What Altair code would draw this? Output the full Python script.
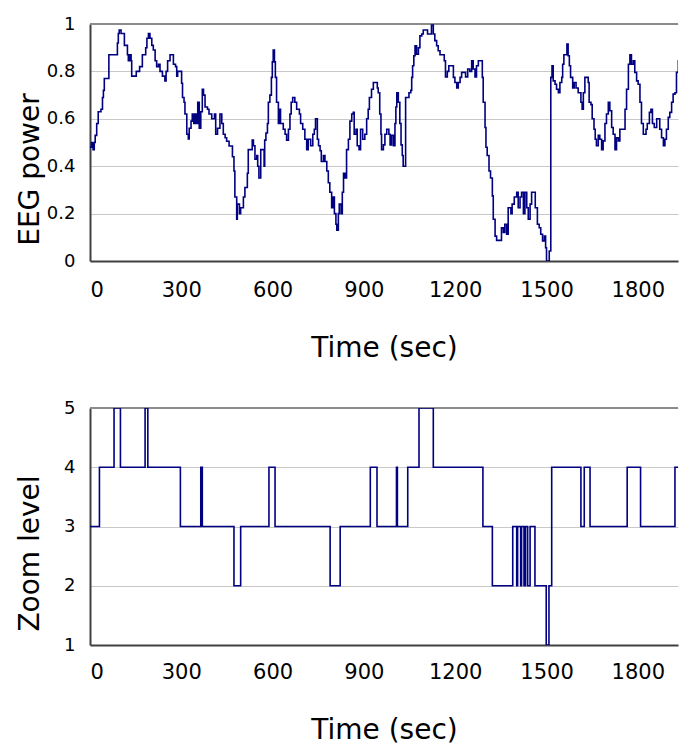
import altair as alt
import pandas as pd

# ---- data ----
eeg_t = [0, 5, 10, 14, 17, 22, 27, 36, 41, 44, 47, 62, 90, 93, 96, 102, 113, 123, 126, 131, 135, 137, 152, 163, 172, 183, 187, 192, 197, 203, 208, 214, 219, 225, 230, 238, 246, 250, 255, 263, 274, 281, 285, 288, 301, 304, 309, 312, 318, 323, 326, 332, 336, 341, 345, 350, 354, 359, 364, 369, 373, 378, 386, 391, 400, 409, 413, 419, 427, 433, 438, 444, 449, 457, 468, 473, 476,
         482, 484, 491, 495, 504, 509, 517, 520, 533, 537, 542, 548, 551, 555, 561, 572, 574, 578, 583, 586, 591, 596, 599, 602, 606, 609, 613, 619, 622, 626, 635, 641, 646, 652, 657, 661, 666, 673, 679, 688, 692, 699, 706, 712, 717, 725, 732, 737, 741, 747, 751, 756, 760, 767, 772, 778, 783, 788, 794, 799, 803, 808, 811, 816, 819, 825, 829, 833, 838, 843, 849, 854, 860, 865, 868, 874, 878, 884, 889, 896, 903, 909, 914, 918, 925, 931, 940, 944,
         947, 952, 956, 958, 964, 969, 975, 982, 986, 991, 997, 1002, 1005, 1008, 1013, 1018, 1022, 1026, 1029, 1037, 1048, 1054, 1057, 1060, 1064, 1068, 1073, 1079, 1084, 1090, 1095, 1109, 1122, 1128, 1133, 1139, 1144, 1150, 1164, 1168, 1174, 1179, 1194, 1199, 1205, 1210, 1216, 1221, 1234, 1241, 1248, 1254, 1259, 1265, 1270, 1276, 1289, 1292, 1298, 1301, 1305, 1311, 1316, 1322, 1325, 1331, 1336, 1352, 1358, 1363, 1369, 1374, 1383, 1387, 1394, 1402, 1407, 1413, 1418, 1424,
         1429, 1435, 1440, 1446, 1451, 1463, 1470, 1476, 1481, 1487, 1493, 1497, 1500, 1509, 1514, 1518, 1522, 1528, 1533, 1539, 1544, 1550, 1553, 1557, 1567, 1571, 1575, 1579, 1586, 1591, 1597, 1604, 1613, 1617, 1621, 1626, 1637, 1640, 1646, 1650, 1656, 1660, 1664, 1670, 1675, 1681, 1686, 1692, 1697, 1703, 1708, 1714, 1719, 1725, 1730, 1736, 1741, 1758, 1763, 1769, 1774, 1779, 1785, 1790, 1796, 1801, 1807, 1812, 1818, 1827, 1831, 1838, 1843, 1848, 1854, 1862, 1872, 1878, 1884, 1889, 1894, 1900, 1905, 1911, 1916, 1922, 1927, 1933, 1938, 1944, 1949, 1955, 1960]
eeg_p = [0.48, 0.50, 0.47, 0.50, 0.53, 0.58, 0.63, 0.64, 0.69, 0.72, 0.77, 0.87, 0.92, 0.96, 0.975, 0.96, 0.91, 0.87, 0.845, 0.87, 0.845, 0.78, 0.80, 0.82, 0.87, 0.90, 0.94, 0.96, 0.94, 0.91, 0.89, 0.845, 0.82, 0.83, 0.80, 0.78, 0.76, 0.80, 0.845, 0.87, 0.83, 0.82, 0.78, 0.80, 0.75, 0.69, 0.67, 0.62, 0.535, 0.515, 0.56, 0.59, 0.62, 0.58, 0.62, 0.58, 0.67, 0.56, 0.63, 0.725, 0.70, 0.65, 0.64, 0.62, 0.60, 0.62, 0.535, 0.56, 0.62, 0.58, 0.535, 0.52, 0.505, 0.485, 0.44, 0.38, 0.27,
         0.176, 0.24, 0.20, 0.225, 0.27, 0.31, 0.37, 0.47, 0.51, 0.486, 0.43, 0.445, 0.40, 0.35, 0.47, 0.40, 0.51, 0.54, 0.58, 0.67, 0.70, 0.775, 0.84, 0.89, 0.84, 0.775, 0.67, 0.58, 0.64, 0.58, 0.556, 0.535, 0.51, 0.556, 0.62, 0.67, 0.69, 0.67, 0.64, 0.62, 0.58, 0.556, 0.514, 0.47, 0.514, 0.486, 0.535, 0.556, 0.60, 0.514, 0.486, 0.465, 0.42, 0.445, 0.42, 0.38, 0.33, 0.29, 0.225, 0.27, 0.20, 0.155, 0.13, 0.20, 0.24, 0.20, 0.29, 0.37, 0.35, 0.47, 0.514, 0.59, 0.62, 0.627, 0.535, 0.556, 0.486, 0.47, 0.556, 0.514, 0.535, 0.60, 0.64, 0.69, 0.725, 0.753, 0.753, 0.73,
         0.71, 0.62, 0.535, 0.47, 0.49, 0.535, 0.556, 0.535, 0.49, 0.53, 0.486, 0.58, 0.65, 0.71, 0.67, 0.58, 0.49, 0.445, 0.40, 0.69, 0.71, 0.72, 0.775, 0.824, 0.866, 0.908, 0.873, 0.90, 0.95, 0.958, 0.975, 0.958, 0.996, 0.958, 0.93, 0.908, 0.887, 0.87, 0.845, 0.777, 0.80, 0.824, 0.775, 0.753, 0.73, 0.753, 0.775, 0.796, 0.777, 0.81, 0.80, 0.845, 0.81, 0.777, 0.824, 0.845, 0.775, 0.67, 0.563, 0.48, 0.445, 0.38, 0.35, 0.275, 0.176, 0.105, 0.087, 0.14, 0.12, 0.155, 0.113, 0.225, 0.20, 0.24, 0.27, 0.29, 0.225, 0.27, 0.29, 0.20,
         0.29, 0.225, 0.176, 0.24, 0.29, 0.225, 0.155, 0.14, 0.113, 0.085, 0.105, 0.056, 0.0, 0.042, 0.775, 0.824, 0.76, 0.746, 0.725, 0.71, 0.753, 0.775, 0.83, 0.87, 0.915, 0.866, 0.824, 0.775, 0.73, 0.753, 0.73, 0.71, 0.67, 0.64, 0.71, 0.775, 0.753, 0.67, 0.66, 0.60, 0.556, 0.514, 0.486, 0.53, 0.514, 0.47, 0.507, 0.58, 0.62, 0.67, 0.634, 0.563, 0.535, 0.47, 0.52, 0.507, 0.556, 0.64, 0.725, 0.83, 0.87, 0.83, 0.845, 0.796, 0.76, 0.746, 0.67, 0.58, 0.535, 0.556, 0.58, 0.627, 0.64, 0.58, 0.563, 0.60, 0.556, 0.52, 0.486, 0.514, 0.556, 0.606, 0.627, 0.67, 0.704, 0.71, 0.796, 0.845, 0.76, 0.73, 0.71, 0.73, 0.704]

zoom_t = [0, 31, 79, 100, 181, 190, 297, 364, 369, 473, 495, 588, 608, 789, 822, 921, 943, 1007, 1010, 1044, 1081, 1128, 1291, 1322, 1389, 1402, 1405, 1415, 1418, 1426, 1431, 1438, 1446, 1462, 1499, 1508, 1517, 1613, 1624, 1643, 1765, 1809, 1922, 1951, 1955, 1960]
zoom_lv = [3, 4, 5, 4, 5, 4, 3, 4, 3, 2, 3, 4, 3, 2, 3, 4, 3, 4, 3, 4, 5, 4, 3, 2, 3, 2, 3, 2, 3, 2, 3, 2, 3, 2, 1, 2, 4, 3, 4, 3, 4, 3, 4, 3, 4, 4]

x_ticks = [0, 300, 600, 900, 1200, 1500, 1800]
eeg_ticks = [0, 0.2, 0.4, 0.6, 0.8, 1]
zoom_ticks = [1, 2, 3, 4, 5]
x_domain = [0, 1932]
eeg_domain = [0, 1]
zoom_domain = [1, 5]

FONT = "DejaVu Sans"
LINE = "#000080"
W, H = 588, 237

df_eeg = pd.DataFrame({"t": eeg_t, "p": eeg_p})
df_zoom = pd.DataFrame({"t": zoom_t, "z": zoom_lv})


def x_enc(label_pad, title_y):
    return alt.X(
        "t:Q",
        scale=alt.Scale(domain=x_domain, nice=False, zero=False),
        axis=alt.Axis(values=x_ticks, format="d", title="Time (sec)", grid=False,
                      tickSize=0, labelPadding=label_pad, labelFontSize=21,
                      titleY=title_y, titleBaseline="middle"),
    )


def panel(df, field, domain, ticks, title, fmt, label_pad, title_y):
    y = alt.Y(
        f"{field}:Q",
        scale=alt.Scale(domain=domain, nice=False, zero=False),
        axis=alt.Axis(values=ticks, format=fmt, title=title, tickSize=0, labelPadding=15,
                      labelFontSize=18,
                      titleX=-60, titleY=145, titleAlign="center", titleBaseline="middle"),
    )
    line = alt.Chart(df).mark_line(interpolate="step-after", color=LINE, strokeWidth=1.6,
                                   clip=True).encode(x=x_enc(label_pad, title_y), y=y)
    top = alt.Chart(pd.DataFrame({field: [domain[1]]})).mark_rule(color="#8c8c8c", strokeWidth=2).encode(
        y=alt.Y(f"{field}:Q"))
    return alt.layer(top, line).properties(width=W, height=H)


p1 = panel(df_eeg, "p", eeg_domain, eeg_ticks, "EEG power", "~g", 18, 87)
p2 = panel(df_zoom, "z", zoom_domain, zoom_ticks, "Zoom level", "d", 16, 85)

chart = alt.vconcat(p1, p2, spacing=37).properties(
    padding={"left": 8, "top": 7, "right": 0, "bottom": 0}
).configure(font=FONT).configure_view(stroke=None).configure_axis(
    domainColor="#404040", domainWidth=2, gridColor="#c8c8c8", gridWidth=1,
    labelFont=FONT, labelColor="#000000",
    titleFont=FONT, titleFontSize=28, titleFontWeight="normal", titleColor="#000000",
)

chart.save("out.html", embed_options={"renderer": "svg", "actions": False})
